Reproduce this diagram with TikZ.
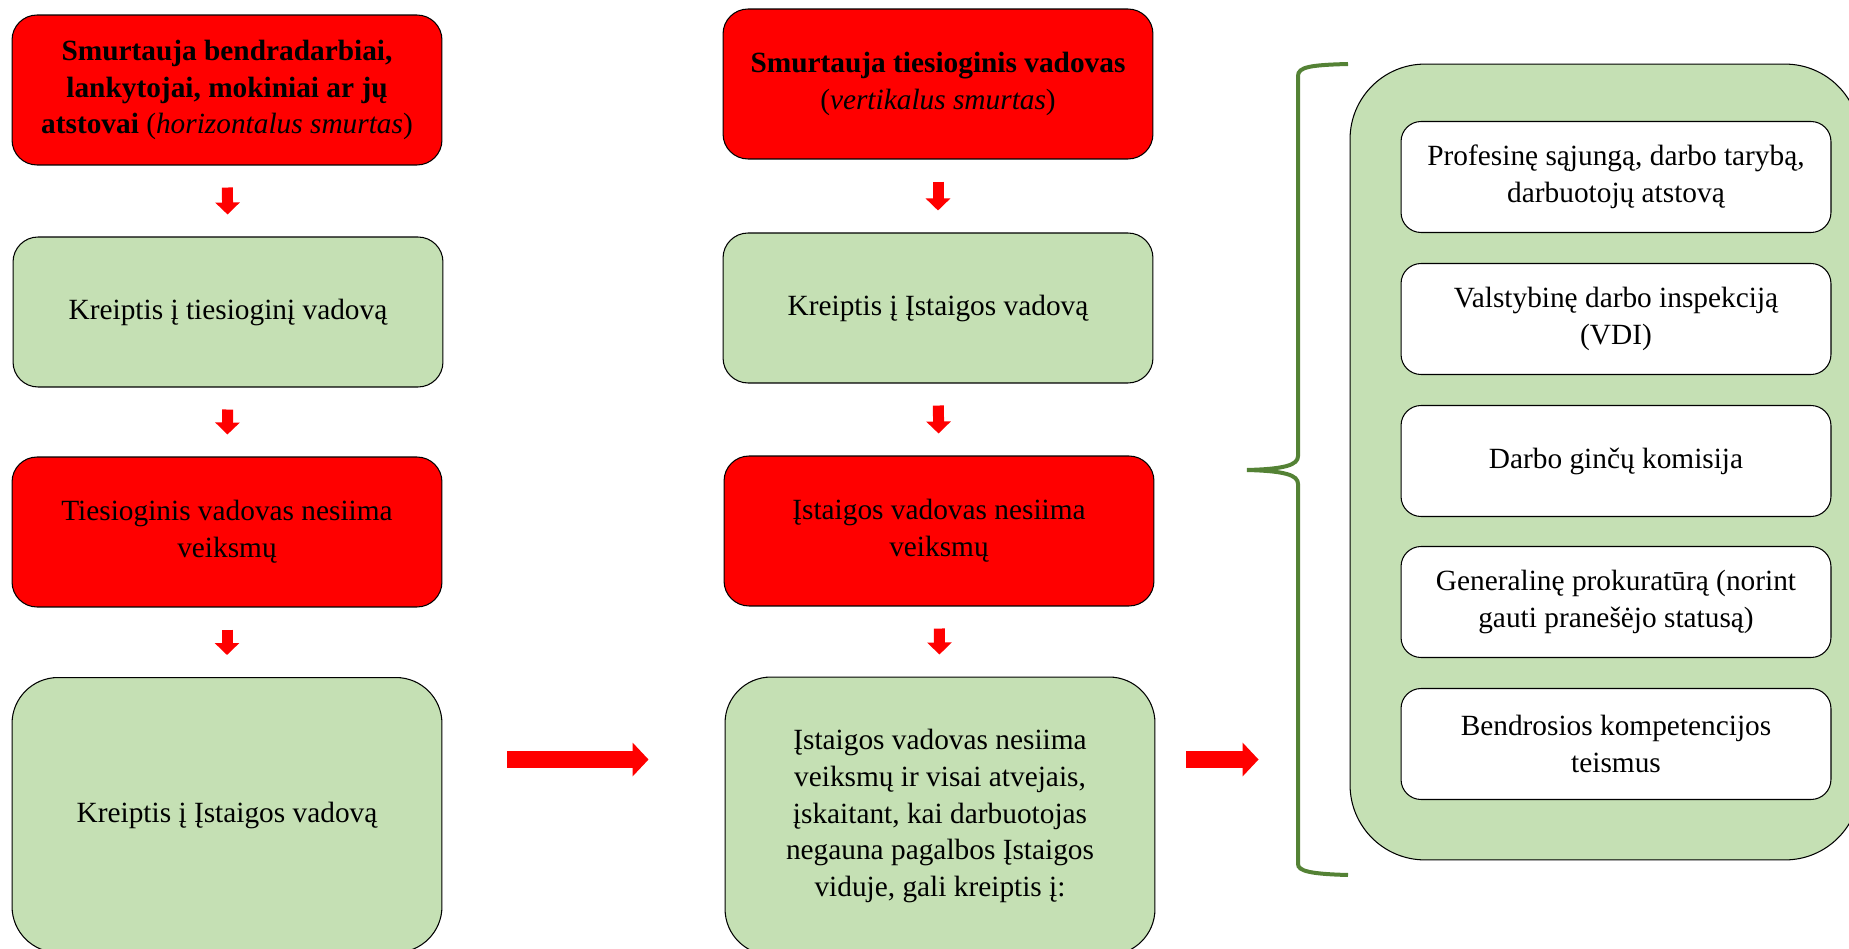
\documentclass[tikz,border=0pt]{standalone}
\usepackage{fontspec}
\setmainfont{Liberation Serif}
\usetikzlibrary{arrows.meta, calc}
\definecolor{mRed}{HTML}{FF0000}
\definecolor{mGreen}{HTML}{C5E0B4}
\definecolor{mDark}{HTML}{548235}

\begin{document}
\begin{tikzpicture}[
  x=0.02cm, y=-0.02cm,
  box/.style={draw=black, line width=0.6pt, rounded corners=0.5cm, align=center, inner sep=0pt,
              minimum width=8.6cm, minimum height=3cm, font=\fontsize{16.7}{20.9}\selectfont},
  redbox/.style={box, fill=mRed},
  greenbox/.style={box, fill=mGreen},
  optbox/.style={box, fill=white, rounded corners=0.4cm, minimum height=2.22cm},
  downarr/.style={draw=mRed, line width=0.22cm, shorten <=0.44cm, shorten >=0.44cm,
                  -{Triangle[length=0.24cm, width=0.48cm]}},
  rightarr/.style={draw=mRed, line width=0.34cm, -{Triangle[length=0.32cm, width=0.66cm]}},
]
  \useasboundingbox (0,0) rectangle (1849,949);

  % horizontal violence
  \node[redbox] (l1) at (227, 90)
    {\textbf{Smurtauja bendradarbiai,}\\ \textbf{lankytojai, mokiniai ar jų}\\
     \textbf{atstovai} (\textit{horizontalus smurtas})};
  \node[greenbox] (l2) at (228, 312) {Kreiptis į tiesioginį vadovą};
  \node[redbox] (l3) at (227, 532) {Tiesioginis vadovas nesiima\\ veiksmų};
  \node[greenbox, minimum height=5.5cm, rounded corners=0.92cm] (l4) at (227, 815)
    {Kreiptis į Įstaigos vadovą};

  % vertical violence
  \node[redbox] (m1) at (938, 84)
    {\textbf{Smurtauja tiesioginis vadovas}\\ (\textit{vertikalus smurtas})};
  \node[greenbox] (m2) at (938, 308) {Kreiptis į Įstaigos vadovą};
  \node[redbox] (m3) at (939, 531) {Įstaigos vadovas nesiima\\ veiksmų};
  \node[greenbox, minimum height=5.56cm, rounded corners=0.92cm] (m4) at (940, 816)
    {Įstaigos vadovas nesiima\\ veiksmų ir visai atvejais,\\ įskaitant, kai darbuotojas\\
     negauna pagalbos Įstaigos\\ viduje, gali kreiptis į:};

  \draw[downarr] (l1) -- (l2);
  \draw[downarr] (l2) -- (l3);
  \draw[downarr] (l3) -- (l4);
  \draw[downarr] (m1) -- (m2);
  \draw[downarr] (m2) -- (m3);
  \draw[downarr] (m3) -- (m4);

  % outside bodies
  \node[draw=black, line width=0.6pt, fill=mGreen, rounded corners=1.5cm, inner sep=0pt,
        minimum width=10.2cm, minimum height=15.92cm] (panel) at (1605, 462) {};
  \node[optbox] (o1) at (1616, 177) {Profesinę sąjungą, darbo tarybą,\\ darbuotojų atstovą};
  \node[optbox] (o2) at (1616, 319) {Valstybinę darbo inspekciją\\ (VDI)};
  \node[optbox] (o3) at (1616, 461) {Darbo ginčų komisija};
  \node[optbox] (o4) at (1616, 602) {Generalinę prokuratūrą (norint\\ gauti pranešėjo statusą)};
  \node[optbox] (o5) at (1616, 744) {Bendrosios kompetencijos\\ teismus};

  \coordinate (h1) at ([yshift=1.11cm]l4.east);
  \draw[rightarr, shorten <=1.3cm, shorten >=1.52cm] (h1) -- (h1 -| m4.west);
  \draw[rightarr, shorten <=0.62cm, shorten >=1.82cm] (h1 -| m4.east) -- (h1 -| panel.west);

  \draw[mDark, line width=0.08cm]
    (1348,64) .. controls (1310,65) and (1298,67) .. (1298,76) -- (1298,456)
    .. controls (1298,465) and (1285,469) .. (1247,470)
    .. controls (1285,471) and (1298,475) .. (1298,484) -- (1298,864)
    .. controls (1298,871) and (1310,874) .. (1348,875);
\end{tikzpicture}
\end{document}
